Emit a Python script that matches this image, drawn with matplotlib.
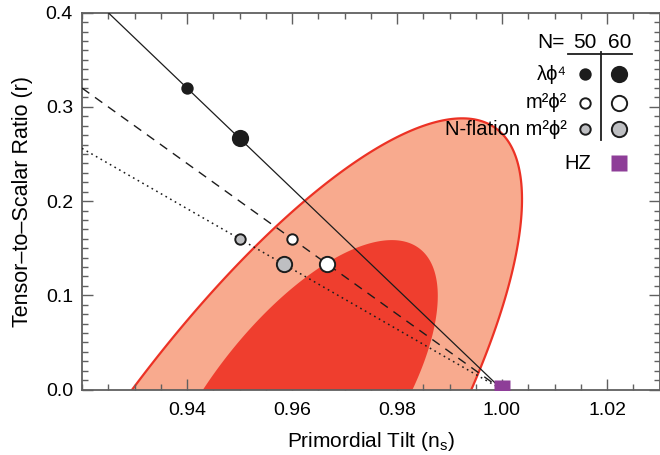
import numpy as np
import matplotlib
matplotlib.use("Agg")
import matplotlib.pyplot as plt
from matplotlib.ticker import MultipleLocator

plt.rcParams['font.family'] = ['Liberation Sans', 'DejaVu Sans']
plt.rcParams['mathtext.fontset'] = 'custom'
plt.rcParams['mathtext.rm'] = 'Liberation Sans'

# ---------------- data ----------------
N_values = [50, 60]
lam_n = [0.94, 0.95]
lam_r = [0.32, 0.267]
m2_n = [0.96, 0.9667]
m2_r = [0.16, 0.133]
nfl_n = [0.95, 0.9585]
nfl_r = [0.16, 0.133]

line_n = [0.92, 1.00]
lam_line_r = [0.4267, 0.0]
m2_line_r = [0.32, 0.0]
nfl_line_r = [0.256, 0.0]

hz_n = [1.0]
hz_r = [0.002]

# constraint contours: centre (n, r) and two conjugate semi-axis vectors
outer_center = [0.94666, -0.14332]
outer_axis1 = [0.05196, 0.42142]
outer_axis2 = [-0.02380, 0.09117]
inner_center = [0.96010, -0.02893]
inner_axis1 = [0.02414, 0.17875]
inner_axis2 = [-0.01352, 0.05673]

x_ticks = [0.94, 0.96, 0.98, 1.00, 1.02]
x_tick_labels = ['0.94', '0.96', '0.98', '1.00', '1.02']
y_ticks = [0.0, 0.1, 0.2, 0.3, 0.4]
y_tick_labels = ['0.0', '0.1', '0.2', '0.3', '0.4']

legend_labels = ['λϕ⁴', 'm²ϕ²', 'N-flation m²ϕ²']

# ---------------- style ----------------
C_OUT = '#F8AA8E'
C_EDGE = '#EC3225'
C_IN = '#EF3E2E'
C_BLACK = '#1c1c1c'
C_GRAY = '#BEBFC2'
C_HZ = '#8E3E98'
C_AX = '#606060'
FS = 14

fig = plt.figure(figsize=(6.6, 4.55), dpi=100)
ax = fig.add_axes([82/660, (455-389.5)/455, (659.5-82)/660, (389.5-12.7)/455])

t = np.linspace(0, 2*np.pi, 400)
def ellipse(c, v1, v2):
    nn = c[0] + v1[0]*np.cos(t) + v2[0]*np.sin(t)
    rr = c[1] + v1[1]*np.cos(t) + v2[1]*np.sin(t)
    return nn, rr

on, orr = ellipse(outer_center, outer_axis1, outer_axis2)
ax.fill(on, orr, facecolor=C_OUT, edgecolor=C_EDGE, linewidth=1.6, zorder=1)
inn, inr = ellipse(inner_center, inner_axis1, inner_axis2)
ax.fill(inn, inr, facecolor=C_IN, edgecolor='none', zorder=2)

ax.plot(line_n, lam_line_r, color=C_BLACK, lw=0.9, zorder=3)
ax.plot(line_n, m2_line_r, color=C_BLACK, lw=1.0, linestyle=(0, (6.5, 5)), zorder=3)
ax.plot(line_n, nfl_line_r, color=C_BLACK, lw=1.1, linestyle=(0, (1.1, 2.4)), zorder=3)

small_ms, big_ms, mew = 7.5, 11.0, 1.4
styles = [(lam_n, lam_r, C_BLACK), (m2_n, m2_r, 'white'), (nfl_n, nfl_r, C_GRAY)]
for xs, ys, fc in styles:
    for i, (x, y) in enumerate(zip(xs, ys)):
        ax.plot([x], [y], 'o', ms=(small_ms if i == 0 else big_ms), mfc=fc,
                mec=C_BLACK, mew=mew, zorder=5)

ax.plot(hz_n, hz_r, 's', ms=12, mfc=C_HZ, mec='none', zorder=6)

ax.set_xlim(0.92, 1.03)
ax.set_ylim(0.0, 0.4)
ax.set_xticks(x_ticks)
ax.set_xticklabels(x_tick_labels)
ax.set_yticks(y_ticks)
ax.set_yticklabels(y_tick_labels)
ax.xaxis.set_minor_locator(MultipleLocator(0.005))
ax.yaxis.set_minor_locator(MultipleLocator(0.01))
ax.tick_params(which='both', direction='in', top=True, right=True, color=C_AX, width=1.0)
ax.tick_params(which='major', length=8)
ax.tick_params(which='minor', length=4)
ax.tick_params(axis='x', which='major', labelsize=FS, pad=9)
ax.tick_params(axis='y', which='major', labelsize=FS, pad=6.5)
for s in ax.spines.values():
    s.set_color(C_AX)
    s.set_linewidth(1.3)

ax.set_xlabel('Primordial Tilt (n$_\\mathregular{s}$)', fontsize=FS + 1, labelpad=8)
ax.set_ylabel('Tensor–to–Scalar Ratio (r)', fontsize=FS + 1.5, labelpad=9)

# ---------------- legend (custom table) ----------------
def axx(px):
    return (px - 82) / 577.5
def axy(py):
    return (389.5 - py) / 376.8

col_x = [axx(585), axx(619.3)]
row_y = [axy(74), axy(102.7), axy(129.3)]
tr = ax.transAxes
ax.text(axx(565), axy(42.7), 'N=', transform=tr, ha='right', va='center', fontsize=FS + 1, zorder=7)
for cx, nv in zip(col_x, N_values):
    ax.text(cx, axy(42.7), str(nv), transform=tr, ha='center', va='center', fontsize=FS + 1, zorder=7)
ax.plot([axx(568), axx(632)], [axy(54.3), axy(54.3)], transform=tr, color=C_BLACK, lw=1.3, clip_on=False, zorder=7)
ax.plot([axx(601), axx(601)], [axy(52), axy(140)], transform=tr, color=C_BLACK, lw=1.3, clip_on=False, zorder=7)
fcs = [C_BLACK, 'white', C_GRAY]
for ry, lab, fc in zip(row_y, legend_labels, fcs):
    ax.text(axx(567), ry, lab, transform=tr, ha='right', va='center', fontsize=FS + 0.5, zorder=7)
    ax.plot([col_x[0]], [ry], 'o', ms=small_ms, mfc=fc, mec=C_BLACK, mew=mew, transform=tr, clip_on=False, zorder=7)
    ax.plot([col_x[1]], [ry], 'o', ms=big_ms, mfc=fc, mec=C_BLACK, mew=mew, transform=tr, clip_on=False, zorder=7)
ax.text(axx(591), axy(163.3), 'HZ', transform=tr, ha='right', va='center', fontsize=FS + 0.5, zorder=7)
ax.plot([col_x[1]], [axy(163.3)], 's', ms=12, mfc=C_HZ, mec='none', transform=tr, clip_on=False, zorder=7)

fig.savefig('out.png', dpi=100)
